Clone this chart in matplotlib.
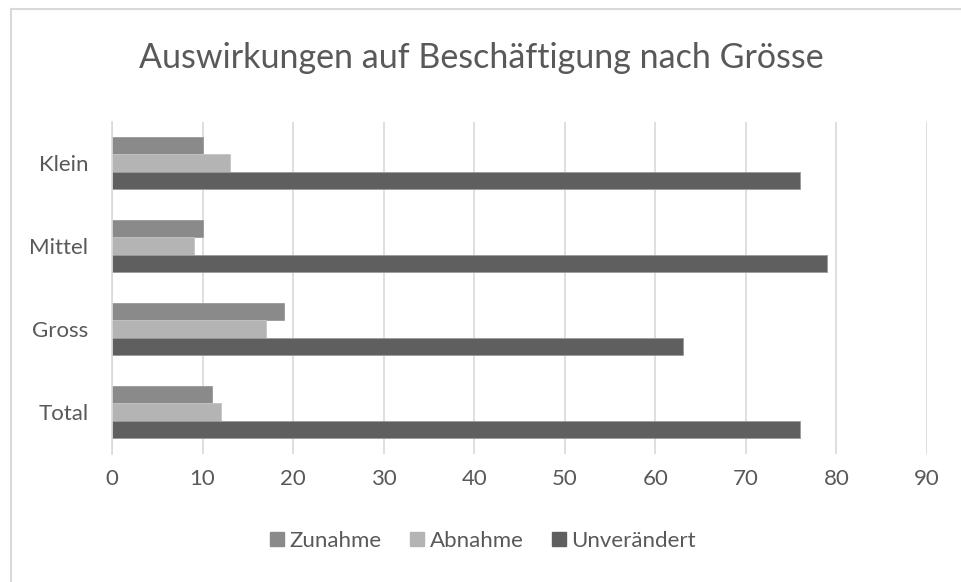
import matplotlib.pyplot as plt
import numpy as np
from matplotlib.lines import Line2D

categories = ["Klein", "Mittel", "Gross", "Total"]
series_names = ["Zunahme", "Abnahme", "Unverändert"]
zunahme = [10, 10, 19, 11]
abnahme = [13, 9, 17, 12]
unveraendert = [76, 79, 63, 76]
x_ticks = [0, 10, 20, 30, 40, 50, 60, 70, 80, 90]

colors = ["#8a8a8a", "#b4b4b4", "#5f5f5f"]
text_col = "#595959"
grid_col = "#d9d9d9"

plt.rcParams['font.family'] = ['Lato', 'DejaVu Sans']

fig = plt.figure(figsize=(9.62, 5.82), dpi=100)
fig.patch.set_facecolor('white')
W, H = 962, 582
ax = fig.add_axes([112 / W, 1 - 453.5 / H, (927 - 112) / W, (453.5 - 121.5) / H])

y = np.arange(len(categories))
bh = 0.205
for i, (vals, name) in enumerate(zip([zunahme, abnahme, unveraendert], series_names)):
    ax.barh(y + (i - 1) * bh, vals, height=bh, color=colors[i], label=name,
            edgecolor='#9a9a9a' if i != 1 else '#c4c4c4', linewidth=0.6)

ax.set_ylim(len(categories) - 0.5, -0.5)
ax.set_xlim(0, 90)
ax.set_yticks(y)
ax.set_yticklabels(categories, fontsize=16, color=text_col)
ax.set_xticks(x_ticks)
ax.set_xticklabels([str(t) for t in x_ticks], fontsize=16, color=text_col)
ax.tick_params(length=0)
ax.tick_params(axis='y', pad=17)
ax.tick_params(axis='x', pad=11)
ax.grid(axis='x', color=grid_col, linewidth=1.2)
ax.set_axisbelow(True)
for s in ['top', 'right', 'bottom']:
    ax.spines[s].set_visible(False)
ax.spines['left'].set_color(grid_col)
ax.spines['left'].set_linewidth(1.2)

fig.text(0.5, 1 - 58 / H, "Auswirkungen auf Beschäftigung nach Grösse",
         ha='center', va='center', fontsize=24.5, color=text_col)

handles = [Line2D([0], [0], marker='s', color='none', markerfacecolor=c,
                  markeredgecolor=c, markersize=9.5) for c in colors]
fig.legend(handles, series_names, loc='center', bbox_to_anchor=(0.5, 1 - 541 / H),
           ncol=3, frameon=False, fontsize=16, labelcolor=text_col,
           handletextpad=0.05, columnspacing=1.1, handlelength=1.0)

# partial frame (top and left edges visible in the crop)
fig.add_artist(Line2D([11 / W, 11 / W], [0, 1 - 9 / H], transform=fig.transFigure,
                      color=grid_col, linewidth=1.5))
fig.add_artist(Line2D([11 / W, 1], [1 - 9 / H, 1 - 9 / H], transform=fig.transFigure,
                      color=grid_col, linewidth=1.5))

fig.savefig("out.png", dpi=100, facecolor='white')
